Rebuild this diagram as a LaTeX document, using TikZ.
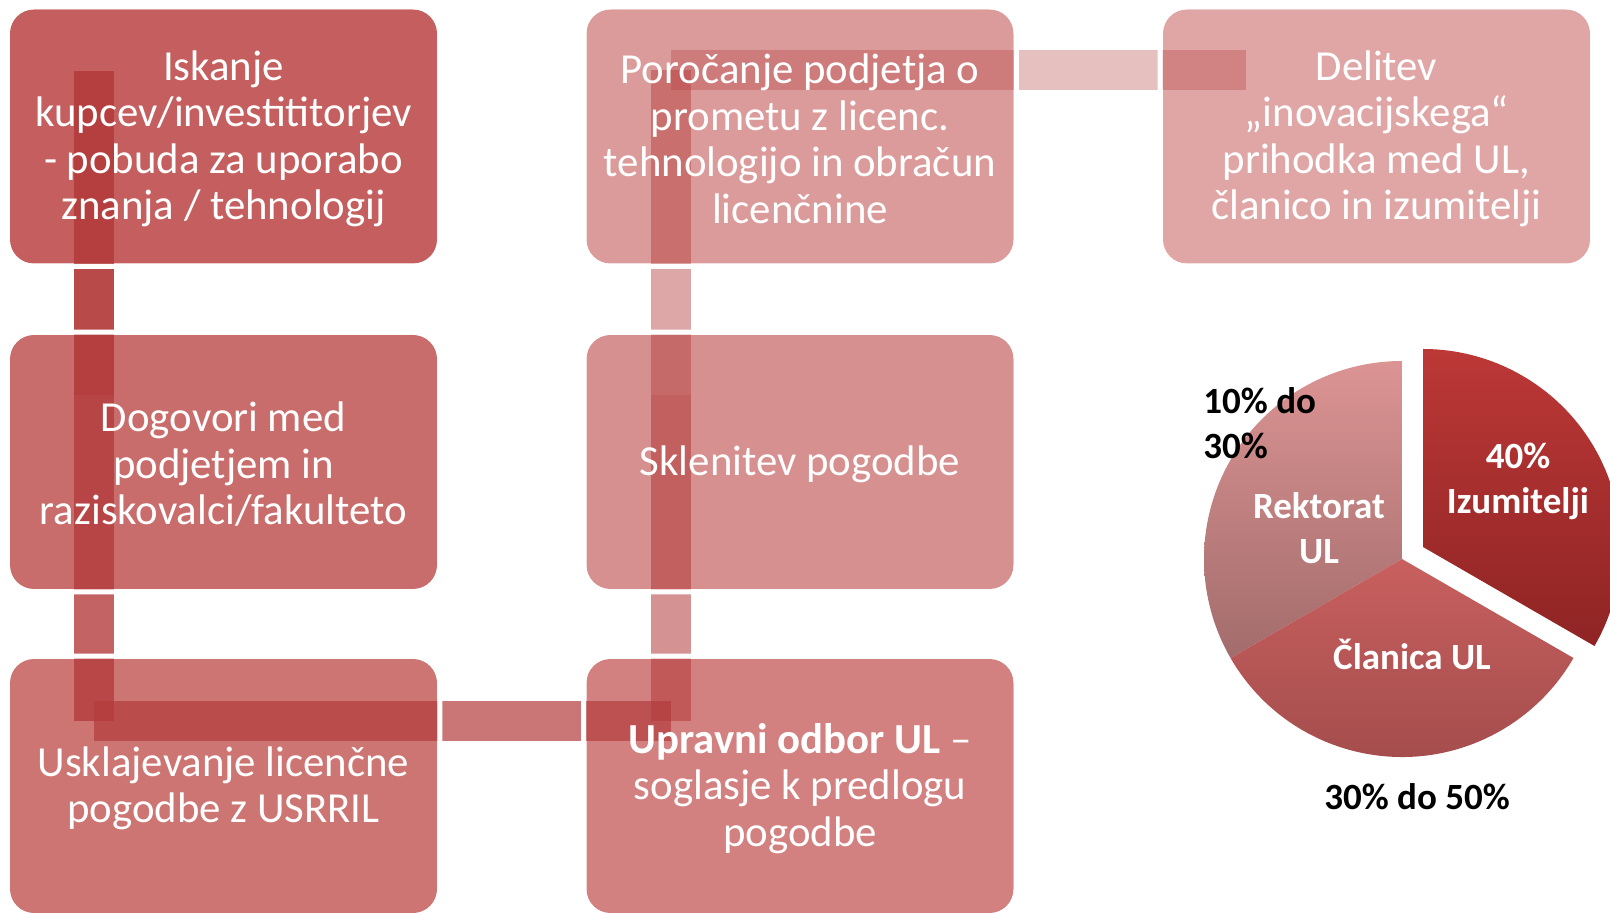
\documentclass[tikz,border=0pt]{standalone}
\usepackage{fontspec}
\setmainfont{Carlito}

\definecolor{boxa}{RGB}{197,95,95}
\definecolor{boxb}{RGB}{201,109,108}
\definecolor{boxc}{RGB}{205,117,115}
\definecolor{boxd}{RGB}{211,128,128}
\definecolor{boxe}{RGB}{214,144,143}
\definecolor{boxf}{RGB}{219,155,154}
\definecolor{boxg}{RGB}{224,166,166}
\definecolor{barred}{RGB}{180,60,60}
\definecolor{izumtop}{RGB}{188,56,55}
\definecolor{izumbot}{RGB}{143,36,36}
\definecolor{clantop}{RGB}{200,96,95}
\definecolor{clanbot}{RGB}{160,74,74}
\definecolor{rekttop}{RGB}{219,148,147}
\definecolor{rektbot}{RGB}{163,108,108}

\tikzset{
  stepbox/.style={rounded corners=12pt, minimum width=213.5pt, minimum height=127pt, inner sep=0pt},
  steptext/.style={inner sep=0pt, yshift=-1.25pt, text=white, align=center, font=\fontsize{21.4}{23.25}\selectfont},
  bar/.style={barred, line width=20pt},
  gapline/.style={white, line width=2.5pt, rounded corners=13.25pt},
  pielabel/.style={inner sep=0pt, font=\bfseries\fontsize{18.5}{22.5}\selectfont, align=center}
}

\begin{document}
\begin{tikzpicture}[x=0.5pt,y=-0.5pt]
            \useasboundingbox (0,0) rectangle (1610,913);

            % boxes
            \node[stepbox, fill=boxa] (iskanje) at (223.5,136.5) {};
            \node[stepbox, fill=boxb] (dogovori) at (223.5,462) {};
            \node[stepbox, fill=boxc] (usklajevanje) at (223.5,786) {};
            \node[stepbox, fill=boxd] (odbor) at (800,786) {};
            \node[stepbox, fill=boxe] (sklenitev) at (800,462) {};
            \node[stepbox, fill=boxf] (porocanje) at (800,136.5) {};
            \node[stepbox, fill=boxg] (delitev) at (1376.5,136.5) {};

            % bars
            \coordinate (pa) at (94,71);
            \coordinate (pb) at (94,395);
            \coordinate (pc) at (94,721);
            \coordinate (pd) at (671,721);
            \coordinate (pe) at (671,395);
            \coordinate (pf) at (671,70);
            \coordinate (pg) at (1246,70);

            \draw[bar, opacity=.93] (pa) -- (pb);
            \draw[bar, opacity=.8] (pb) -- (pc);
            \draw[bar, opacity=.7] (pc) -- (pd);
            \draw[bar, opacity=.56] (pd) -- (pe);
            \draw[bar, opacity=.45] (pe) -- (pf);
            \draw[bar, opacity=.33] (pf) -- (pg);

            \foreach \n in {iskanje,dogovori,usklajevanje,odbor,sklenitev,porocanje,delitev}
              \draw[gapline] ([shift={(-2.5,-2.5)}]\n.north west) rectangle ([shift={(2.5,2.5)}]\n.south east);

            % texts
            \node[steptext] (iskanjetxt) at (iskanje) {Iskanje\\kupcev/investititorjev\\- pobuda za uporabo\\znanja / tehnologij};
            \node[steptext] (dogovoritxt) at (dogovori) {Dogovori med\\podjetjem in\\raziskovalci/fakulteto};
            \node[steptext] (usklajevanjetxt) at (usklajevanje) {Usklajevanje licenčne\\pogodbe z USRRIL};
            \node[steptext] (odbortxt) at (odbor) {\textbf{Upravni odbor UL} –\\soglasje k predlogu\\pogodbe};
            \node[steptext] (sklenitevtxt) at (sklenitev) {Sklenitev pogodbe};
            \node[steptext] (porocanjetxt) at (porocanje) {Poročanje podjetja o\\prometu z licenc.\\tehnologijo in obračun\\licenčnine};
            \node[steptext] (delitevtxt) at (delitev) {Delitev\\„inovacijskega“\\prihodka med UL,\\članico in izumitelji};

            % pie
            \coordinate (mid) at (1402,559);
            \coordinate (out) at (1423,547);
            \path[top color=rekttop, bottom color=rektbot] (mid) -- ++(-90:198) arc[start angle=-90, end angle=-210, radius=198] -- cycle;
            \path[top color=clantop, bottom color=clanbot] (mid) -- ++(-210:198) arc[start angle=-210, end angle=-330, radius=198] -- cycle;
            \path[top color=izumtop, bottom color=izumbot] (out) -- ++(30:198) arc[start angle=30, end angle=-90, radius=198] -- cycle;

            \node[pielabel, text=white] (izum) at (1518,481) {40\%\\Izumitelji};
            \node[pielabel, text=white] (rekt) at (1319,528) {Rektorat\\UL};
            \node[pielabel, text=white] (clan) at (1412,654) {Članica UL};
            \node[pielabel, align=left, anchor=west] (rektpct) at (1203,423) {10\% do\\30\%};
            \node[pielabel] (clanpct) at (1417,797) {30\% do 50\%};

        \end{tikzpicture}
\end{document}
